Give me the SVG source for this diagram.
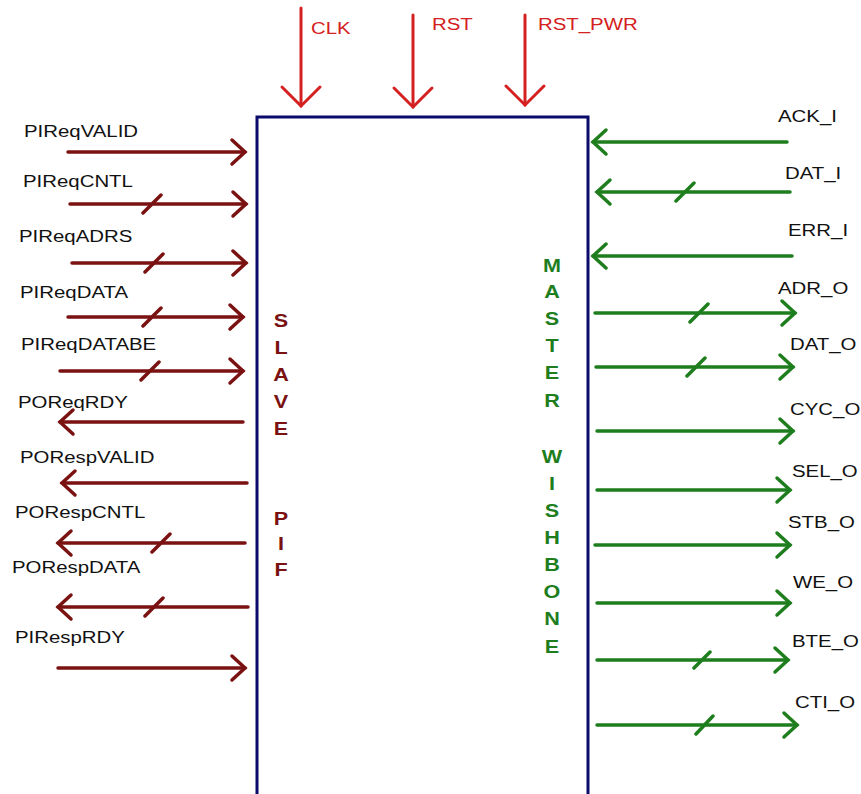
<svg xmlns="http://www.w3.org/2000/svg" width="861" height="794" viewBox="0 0 861 794">
<style>
.lbl{font-family:"Liberation Sans",Arial,sans-serif;font-size:17px;fill:#111}
.top{font-family:"Liberation Sans",Arial,sans-serif;font-size:17px;fill:#D42020}
.sl{font-family:"Liberation Sans",Arial,sans-serif;font-size:18px;font-weight:bold;fill:#7A1212;text-anchor:middle}
.ms{font-family:"Liberation Sans",Arial,sans-serif;font-size:18px;font-weight:bold;fill:#1E7E1E;text-anchor:middle}
.r{stroke:#7A1212;stroke-width:3.5;fill:none;stroke-linecap:round}
.g{stroke:#1E7E1E;stroke-width:3.5;fill:none;stroke-linecap:round}
.t{stroke:#D42020;stroke-width:3;fill:none;stroke-linecap:round}
</style>
<defs>
<marker id="ar" markerUnits="userSpaceOnUse" markerWidth="30" markerHeight="30" orient="auto" overflow="visible"><path d="M-13,-12 L0,0 L-13,12" fill="none" stroke="#7A1212" stroke-width="3.5" stroke-linecap="round"/></marker>
<marker id="ag" markerUnits="userSpaceOnUse" markerWidth="30" markerHeight="30" orient="auto" overflow="visible"><path d="M-13,-12 L0,0 L-13,12" fill="none" stroke="#1E7E1E" stroke-width="3.5" stroke-linecap="round"/></marker>
<marker id="at" markerUnits="userSpaceOnUse" markerWidth="40" markerHeight="40" orient="auto" overflow="visible"><path d="M-19,-19 L0,0 L-19,19" fill="none" stroke="#D42020" stroke-width="3" stroke-linecap="round"/></marker>
</defs>
<rect width="861" height="794" fill="#fff"/>
<g id="block">
<rect x="257" y="117" width="331" height="700" fill="#fff" stroke="#0B0B6B" stroke-width="3"/>
<text class="sl" transform="translate(281,327) scale(1.2 1)">S</text>
<text class="sl" transform="translate(281,354) scale(1.2 1)">L</text>
<text class="sl" transform="translate(281,381) scale(1.2 1)">A</text>
<text class="sl" transform="translate(281,408) scale(1.2 1)">V</text>
<text class="sl" transform="translate(281,435) scale(1.2 1)">E</text>
<text class="sl" transform="translate(281,525) scale(1.2 1)">P</text>
<text class="sl" transform="translate(281,550) scale(1.2 1)">I</text>
<text class="sl" transform="translate(281,576) scale(1.2 1)">F</text>
<text class="ms" transform="translate(552,272) scale(1.2 1)">M</text>
<text class="ms" transform="translate(552,298) scale(1.2 1)">A</text>
<text class="ms" transform="translate(552,325) scale(1.2 1)">S</text>
<text class="ms" transform="translate(552,352) scale(1.2 1)">T</text>
<text class="ms" transform="translate(552,379) scale(1.2 1)">E</text>
<text class="ms" transform="translate(552,407) scale(1.2 1)">R</text>
<text class="ms" transform="translate(552,463) scale(1.2 1)">W</text>
<text class="ms" transform="translate(552,490) scale(1.2 1)">I</text>
<text class="ms" transform="translate(552,517) scale(1.2 1)">S</text>
<text class="ms" transform="translate(552,544) scale(1.2 1)">H</text>
<text class="ms" transform="translate(552,571) scale(1.2 1)">B</text>
<text class="ms" transform="translate(552,598) scale(1.2 1)">O</text>
<text class="ms" transform="translate(552,625) scale(1.2 1)">N</text>
<text class="ms" transform="translate(552,653) scale(1.2 1)">E</text>
</g>
<g id="labels">
<text class="top" transform="translate(311,34) scale(1.2 1)">CLK</text>
<text class="top" transform="translate(432,30) scale(1.2 1)">RST</text>
<text class="top" transform="translate(538,30) scale(1.2 1)">RST_PWR</text>
<text class="lbl" transform="translate(24,137) scale(1.2 1)">PIReqVALID</text>
<text class="lbl" transform="translate(23,187) scale(1.2 1)">PIReqCNTL</text>
<text class="lbl" transform="translate(19,242) scale(1.2 1)">PIReqADRS</text>
<text class="lbl" transform="translate(20,298) scale(1.2 1)">PIReqDATA</text>
<text class="lbl" transform="translate(21,350) scale(1.2 1)">PIReqDATABE</text>
<text class="lbl" transform="translate(18,408) scale(1.2 1)">POReqRDY</text>
<text class="lbl" transform="translate(20,463) scale(1.2 1)">PORespVALID</text>
<text class="lbl" transform="translate(15,518) scale(1.2 1)">PORespCNTL</text>
<text class="lbl" transform="translate(12,573) scale(1.2 1)">PORespDATA</text>
<text class="lbl" transform="translate(15,643) scale(1.2 1)">PIRespRDY</text>
<text class="lbl" transform="translate(778,122) scale(1.2 1)">ACK_I</text>
<text class="lbl" transform="translate(785,179) scale(1.2 1)">DAT_I</text>
<text class="lbl" transform="translate(788,236) scale(1.2 1)">ERR_I</text>
<text class="lbl" transform="translate(778,294) scale(1.2 1)">ADR_O</text>
<text class="lbl" transform="translate(790,350) scale(1.2 1)">DAT_O</text>
<text class="lbl" transform="translate(790,415) scale(1.2 1)">CYC_O</text>
<text class="lbl" transform="translate(792,477) scale(1.2 1)">SEL_O</text>
<text class="lbl" transform="translate(788,528) scale(1.2 1)">STB_O</text>
<text class="lbl" transform="translate(793,588) scale(1.2 1)">WE_O</text>
<text class="lbl" transform="translate(792,647) scale(1.2 1)">BTE_O</text>
<text class="lbl" transform="translate(795,708) scale(1.2 1)">CTI_O</text>
</g>
<g id="connectors">
<line class="t" x1="301" y1="8" x2="301" y2="106" marker-end="url(#at)"/>
<line class="t" x1="413" y1="15" x2="413" y2="107" marker-end="url(#at)"/>
<line class="t" x1="525" y1="15" x2="525" y2="105" marker-end="url(#at)"/>

<line class="r" x1="68" y1="152" x2="245" y2="152" marker-end="url(#ar)"/>
<line class="r" x1="70" y1="204" x2="246" y2="204" marker-end="url(#ar)"/>
<line class="r" x1="72" y1="263" x2="246" y2="263" marker-end="url(#ar)"/>
<line class="r" x1="68" y1="317" x2="243" y2="317" marker-end="url(#ar)"/>
<line class="r" x1="60" y1="371" x2="243" y2="371" marker-end="url(#ar)"/>
<line class="r" x1="243" y1="422" x2="60" y2="422" marker-end="url(#ar)"/>
<line class="r" x1="247" y1="483" x2="62" y2="483" marker-end="url(#ar)"/>
<line class="r" x1="245" y1="543" x2="58" y2="543" marker-end="url(#ar)"/>
<line class="r" x1="248" y1="607" x2="58" y2="607" marker-end="url(#ar)"/>
<line class="r" x1="58" y1="668" x2="245" y2="668" marker-end="url(#ar)"/>
<path class="r" d="M143,213 L161,195 M145,272 L163,254 M143,326 L161,308 M141,380 L159,362 M152,552 L170,534 M145,616 L163,598"/>

<line class="g" x1="787" y1="142" x2="593" y2="142" marker-end="url(#ag)"/>
<line class="g" x1="790" y1="192" x2="597" y2="192" marker-end="url(#ag)"/>
<line class="g" x1="792" y1="256" x2="593" y2="256" marker-end="url(#ag)"/>
<line class="g" x1="595" y1="313" x2="795" y2="313" marker-end="url(#ag)"/>
<line class="g" x1="596" y1="367" x2="793" y2="367" marker-end="url(#ag)"/>
<line class="g" x1="597" y1="431" x2="793" y2="431" marker-end="url(#ag)"/>
<line class="g" x1="597" y1="490" x2="790" y2="490" marker-end="url(#ag)"/>
<line class="g" x1="595" y1="545" x2="790" y2="545" marker-end="url(#ag)"/>
<line class="g" x1="597" y1="603" x2="790" y2="603" marker-end="url(#ag)"/>
<line class="g" x1="597" y1="660" x2="788" y2="660" marker-end="url(#ag)"/>
<line class="g" x1="597" y1="725" x2="797" y2="725" marker-end="url(#ag)"/>
<path class="g" d="M676,201 L694,183 M690,322 L708,304 M687,376 L705,358 M694,668 L710,652 M696,734 L713,716"/>
</g>
</svg>
